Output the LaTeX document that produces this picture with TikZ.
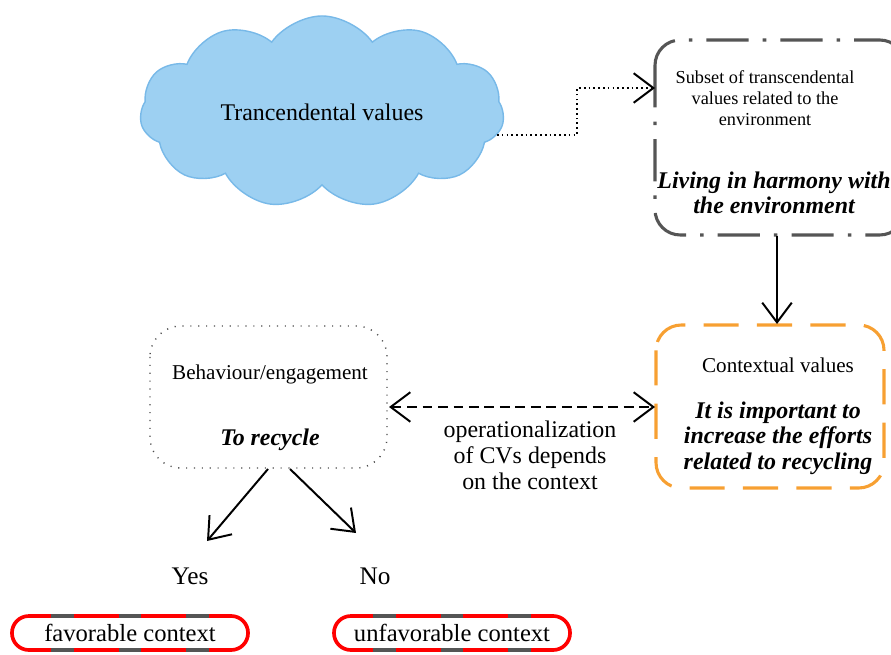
\documentclass[tikz,border=0pt]{standalone}
\usepackage{fontspec}
\setmainfont{Liberation Serif}
\usetikzlibrary{arrows.meta, shapes.symbols}

\definecolor{skyfill}{RGB}{157,208,242}
\definecolor{skyline}{RGB}{120,185,232}
\definecolor{ctxorange}{RGB}{247,160,50}
\definecolor{frame}{RGB}{85,85,85}

\begin{document}
\begin{tikzpicture}[
    x=0.025cm, y=-0.025cm, % one unit = one pixel of the layout
    >={Straight Barb[length=14pt, width=21pt, line width=1.4pt]}, % open chevron tips
    valuecloud/.style={cloud, cloud puffs=11, cloud puff arc=110, aspect=2.1,
      fill=skyfill, draw=skyline, line width=1pt,
      minimum width=9.1cm, minimum height=4.8cm, font=\fontsize{17}{20}\selectfont}, % cloud of values
    subsetbox/.style={draw=frame, line width=2.2pt, rounded corners=18pt,
      dash pattern=on 30pt off 10pt on 2.5pt off 10pt}, % dash-dot frame
    contextbox/.style={draw=ctxorange, line width=2.2pt, rounded corners=18pt,
      dash pattern=on 25pt off 13pt}, % orange dashed frame
    behaviourbox/.style={draw=black!70, line width=1pt, rounded corners=22pt,
      dash pattern=on 0.8pt off 4.8pt}, % dotted frame
    pill/.style={draw=red, line width=2.6pt, rounded corners=12pt, outer sep=0pt,
      minimum width=5.9cm, minimum height=0.85cm, font=\fontsize{17.5}{20}\selectfont}, % context pills
    pill gray/.style={draw=frame, line width=2.6pt, dash pattern=on 16pt off 32pt}, % gray bits of the pills
    label/.style={align=center, font=\fontsize{15}{18}\selectfont},
    small label/.style={align=center, font=\fontsize{13}{15}\selectfont},
    claim/.style={align=center, font=\fontsize{17}{18}\selectfont\bfseries\itshape},
    link/.style={->, line width=1.4pt} % solid connectors
  ]

  \useasboundingbox (0,0) rectangle (891,655);

  % --- Transcendental values ---
  \node[valuecloud] (cloud) at (322,112) {Trancendental values};
  \coordinate (cloud_out) at (497,135);

  % --- Subset box (runs past the right edge) ---
  \draw[subsetbox] (655,40) rectangle (905,235);
  \coordinate (subset_in) at (655,88);
  \coordinate (subset_out) at (777,236);
  \node[small label] (subset) at (765,98) {Subset of transcendental\\values related to the\\environment};
  \node[claim] (harmony) at (774,193) {Living in harmony with\\the environment};

  % --- Contextual values ---
  \draw[contextbox] (656,325) rectangle (884,488);
  \coordinate (context_top) at (777,324);
  \coordinate (context_in) at (655,407);
  \node[label] (contextual) at (778,365) {Contextual values};
  \node[claim] (important) at (778,438) {It is important to\\increase the efforts\\related to recycling};

  % --- Behaviour ---
  \draw[behaviourbox] (150,326) rectangle (387,468);
  \coordinate (behaviour_in) at (389,407);
  \coordinate (behaviour_l) at (268,469);
  \coordinate (behaviour_r) at (290,469);
  \node[label] (behaviour) at (270,374) {Behaviour/engagement};
  \node[claim] (recycle) at (270,440) {To recycle};

  % --- Outcomes ---
  \node[label, font=\fontsize{18}{20}\selectfont] (yes) at (190,576) {Yes};
  \node[label, font=\fontsize{18}{20}\selectfont] (no) at (375,576) {No};
  \coordinate (yes_in) at (207,541);
  \coordinate (no_in) at (356,533);
  \node[pill] (favorable) at (130,633) {favorable context};
  \node[pill] (unfavorable) at (452,633) {unfavorable context};
  \foreach \p in {favorable, unfavorable} {
      \draw[pill gray] ([xshift=28pt]\p.north west) -- ([xshift=-12pt]\p.north east);
      \draw[pill gray] ([xshift=28pt]\p.south west) -- ([xshift=-12pt]\p.south east);
  }

  % --- Connectors ---
  \draw[->, line width=1.2pt, dash pattern=on 1.2pt off 2.2pt] (cloud_out) -| (577,88) -- (subset_in);
  \draw[link] (subset_out) -- (context_top);
  \draw[<->, line width=1.4pt, dash pattern=on 7pt off 4pt] (behaviour_in) -- (context_in);
  \node[label, font=\fontsize{17}{18.5}\selectfont] (operational) at (530,455) {operationalization\\of CVs depends\\on the context};
  \draw[link] (behaviour_l) -- (yes_in);
  \draw[link] (behaviour_r) -- (no_in);

\end{tikzpicture}
\end{document}
